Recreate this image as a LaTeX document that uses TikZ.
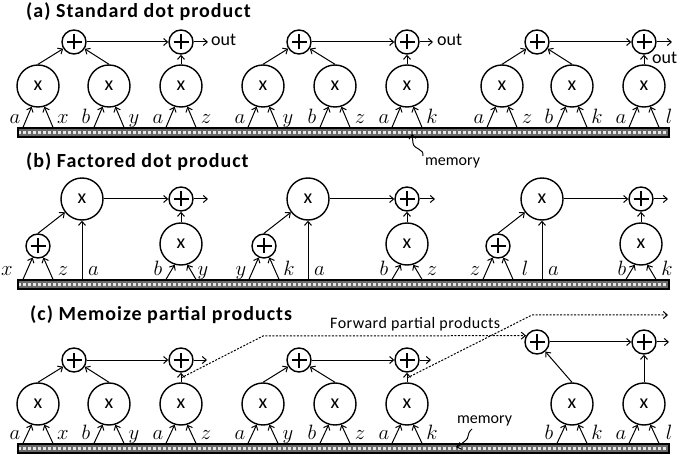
\documentclass[tikz,border=0pt]{standalone}
\usepackage{fontspec}
\setmainfont{Carlito}
\newfontfamily\ttlfont[LetterSpace=5]{Carlito}
\newfontfamily\spfont[LetterSpace=3]{Carlito}
\usetikzlibrary{arrows.meta,calc}
\definecolor{memgray}{RGB}{105,105,105}
\definecolor{memdot}{RGB}{230,230,230}
\tikzset{
  mul/.style={circle,draw,line width=1.4pt,minimum size=42pt,inner sep=0pt,font=\fontsize{20}{20}\selectfont},
  add/.style={circle,draw,line width=1.4pt,minimum size=24pt,inner sep=0pt,
    path picture={\draw[line width=2.3pt] ([xshift=-7.5pt]path picture bounding box.center) -- ([xshift=7.5pt]path picture bounding box.center) ([yshift=-7.5pt]path picture bounding box.center) -- ([yshift=7.5pt]path picture bounding box.center);}},
  flow/.style={line width=1pt,-{Straight Barb[length=4pt,width=7pt]}},
  fwd/.style={flow,dash pattern=on 2pt off 1.5pt},
  lab/.style={font=\fontsize{20.74}{20}\selectfont,inner sep=0pt,anchor=base},
  txt/.style={font=\fontsize{18}{18}\selectfont,inner sep=0pt,anchor=base west},
  ttl/.style={font=\ttlfont\fontsize{20}{20}\selectfont\bfseries,inner sep=0pt,anchor=west},
  membar/.style={draw,line width=1.3pt,fill=memgray,minimum width=651pt,minimum height=9pt,inner sep=0pt,
    path picture={\draw[memdot,line width=2.6pt,dash pattern=on 2.6pt off 2.4pt] (path picture bounding box.west) -- (path picture bounding box.east);}},
}
% multiplier with two inputs from memory bar
\newcommand\mulin[8]{%
  \node[mul] (#1) at (#2,#3) {x};
  \path (#4.north -| #1.south) ++(-15,0) coordinate (#1l) ++(30,0) coordinate (#1r);
  \draw[flow] (#1l) -- (#1.-107);
  \draw[flow] (#1r) -- (#1.-73);
  \node[lab] (#1la) at ($(#4.north -| #1.south)+(#6,-4)$) {$#5$};
  \node[lab] (#1lb) at ($(#4.north -| #1.south)+(#8,-4)$) {$#7$};
}
% adder with two inputs from memory bar
\newcommand\addin[8]{%
  \node[add] (#1) at (#2,#3) {};
  \path (#4.north -| #1.south) ++(-15,0) coordinate (#1l) ++(30,0) coordinate (#1r);
  \draw[flow] (#1l) -- (#1.-115);
  \draw[flow] (#1r) -- (#1.-65);
  \node[lab] (#1la) at ($(#4.north -| #1.south)+(#6,-4)$) {$#5$};
  \node[lab] (#1lb) at ($(#4.north -| #1.south)+(#8,-4)$) {$#7$};
}
\begin{document}
\begin{tikzpicture}[x=1pt,y=-1pt]
\useasboundingbox (0,0) rectangle (686,457);

% ---------------- (a) ----------------
\node[ttl] (ta) at (26,12) {(a) Standard dot product};
\node[membar] (memA) at (343.5,132.5) {};
\mulin{a1}{38}{86}{memA}{a}{-23}{x}{25}
\mulin{a2}{109}{86}{memA}{b}{-23}{y}{25}
\mulin{a3}{181}{86}{memA}{a}{-23}{z}{25}
\mulin{a4}{263}{86}{memA}{a}{-23}{y}{25}
\mulin{a5}{335}{86}{memA}{b}{-23}{z}{25}
\mulin{a6}{407}{86}{memA}{a}{-23}{k}{25}
\mulin{a7}{502}{86}{memA}{a}{-23}{z}{25}
\mulin{a8}{572}{86}{memA}{b}{-23}{k}{25}
\mulin{a9}{644}{86}{memA}{a}{-23}{l}{25}
\node[add] (pa1) at (74,42) {};
\node[add] (pa2) at (181,42) {};
\node[add] (pa3) at (299,42) {};
\node[add] (pa4) at (407,42) {};
\node[add] (pa5) at (537,42) {};
\node[add] (pa6) at (644,42) {};
\coordinate (oa1) at (208,42);
\coordinate (oa2) at (433,42);
\coordinate (oa3) at (672,42);
\draw[flow] (a1.north) -- (pa1);
\draw[flow] (a2.north) -- (pa1);
\draw[flow] (pa1.east) -- (pa2.west);
\draw[flow] (a3.north) -- (pa2.south);
\draw[flow] (pa2.east) -- (oa1);
\draw[flow] (a4.north) -- (pa3);
\draw[flow] (a5.north) -- (pa3);
\draw[flow] (pa3.east) -- (pa4.west);
\draw[flow] (a6.north) -- (pa4.south);
\draw[flow] (pa4.east) -- (oa2);
\draw[flow] (a7.north) -- (pa5);
\draw[flow] (a8.north) -- (pa5);
\draw[flow] (pa5.east) -- (pa6.west);
\draw[flow] (a9.north) -- (pa6.south);
\draw[flow] (pa6.east) -- (oa3);
\node[txt] (outa1) at (211,46) {out};
\node[txt] (outa2) at (437,46) {out};
\node[txt] (outa3) at (652,64) {out};
\node[txt,font=\fontsize{16}{16}\selectfont] (mlA) at (425,166) {memory};
\coordinate (sqa0) at (423,156);
\coordinate (sqa1) at (412,134);
\draw[flow] (sqa0) .. controls (424,148) and (414,150) .. (413,143) -- (sqa1);

% ---------------- (b) ----------------
\node[ttl] (tb) at (26,162) {(b) Factored dot product};
\node[membar] (memB) at (343.5,284.5) {};
% group 1
\addin{sb1}{38}{246}{memB}{x}{-31}{z}{25}
\node[mul] (bb1) at (82,199) {x};
\mulin{rb1}{181}{244}{memB}{b}{-23}{y}{22}
\node[add] (rp1) at (181,199) {};
\coordinate (fb1) at (memB.north -| bb1.south);
\node[lab,anchor=base west] (lb1) at ($(fb1)+(6,-4)$) {$a$};
\coordinate (ob1) at (208,199);
\draw[flow] (sb1.north) -- (bb1);
\draw[flow] (fb1) -- (bb1.south);
\draw[flow] (bb1.east) -- (rp1.west);
\draw[flow] (rb1.north) -- (rp1.south);
\draw[flow] (rp1.east) -- (ob1);
% group 2
\addin{sb2}{264}{246}{memB}{y}{-23}{k}{25}
\node[mul] (bb2) at (308,199) {x};
\mulin{rb2}{407}{244}{memB}{b}{-23}{z}{25}
\node[add] (rp2) at (407,199) {};
\coordinate (fb2) at (memB.north -| bb2.south);
\node[lab,anchor=base west] (lb2) at ($(fb2)+(6,-4)$) {$a$};
\coordinate (ob2) at (435,199);
\draw[flow] (sb2.north) -- (bb2);
\draw[flow] (fb2) -- (bb2.south);
\draw[flow] (bb2.east) -- (rp2.west);
\draw[flow] (rb2.north) -- (rp2.south);
\draw[flow] (rp2.east) -- (ob2);
% group 3
\addin{sb3}{498}{246}{memB}{z}{-23}{l}{27}
\node[mul] (bb3) at (542,199) {x};
\mulin{rb3}{641}{244}{memB}{b}{-19}{k}{26}
\node[add] (rp3) at (641,199) {};
\coordinate (fb3) at (memB.north -| bb3.south);
\node[lab,anchor=base west] (lb3) at ($(fb3)+(6,-4)$) {$a$};
\coordinate (ob3) at (668,199);
\draw[flow] (sb3.north) -- (bb3);
\draw[flow] (fb3) -- (bb3.south);
\draw[flow] (bb3.east) -- (rp3.west);
\draw[flow] (rb3.north) -- (rp3.south);
\draw[flow] (rp3.east) -- (ob3);

% ---------------- (c) ----------------
\node[ttl] (tc) at (30,315) {(c) Memoize partial products};
\node[membar] (memC) at (343.5,448.5) {};
\mulin{c1}{38}{404}{memC}{a}{-23}{x}{25}
\mulin{c2}{109}{404}{memC}{b}{-23}{y}{25}
\mulin{c3}{181}{404}{memC}{a}{-23}{z}{25}
\mulin{c4}{263}{404}{memC}{a}{-23}{y}{25}
\mulin{c5}{335}{404}{memC}{b}{-23}{z}{25}
\mulin{c6}{407}{404}{memC}{a}{-23}{k}{25}
\mulin{c8}{572}{404}{memC}{b}{-23}{k}{25}
\mulin{c9}{644}{404}{memC}{a}{-23}{l}{25}
\node[add] (pc1) at (74,360) {};
\node[add] (pc2) at (181,360) {};
\node[add] (pc3) at (299,360) {};
\node[add] (pc4) at (407,360) {};
\node[add] (pc5) at (537,342) {};
\node[add] (pc6) at (644,342) {};
\coordinate (oc1) at (207,360);
\coordinate (oc2) at (431,360);
\coordinate (oc3) at (669,342);
\draw[flow] (c1.north) -- (pc1);
\draw[flow] (c2.north) -- (pc1);
\draw[flow] (pc1.east) -- (pc2.west);
\draw[flow] (c3.north) -- coordinate[pos=0.45] (f1) (pc2.south);
\draw[flow] (pc2.east) -- (oc1);
\draw[flow] (c4.north) -- (pc3);
\draw[flow] (c5.north) -- (pc3);
\draw[flow] (pc3.east) -- (pc4.west);
\draw[flow] (c6.north) -- coordinate[pos=0.45] (f2) (pc4.south);
\draw[flow] (pc4.east) -- (oc2);
\draw[flow] (c8.north) -- (pc5);
\draw[flow] (pc5.east) -- (pc6.west);
\draw[flow] (c9.north) -- (pc6.south);
\draw[flow] (pc6.east) -- (oc3);
% forwarded partial products
\coordinate (bend1) at (263,336);
\coordinate (bend2) at (532,315);
\coordinate (fwdend) at (668,315);
\draw[fwd] (f1) -- (bend1) -- (pc5.150);
\draw[fwd] (f2) -- (bend2) -- (fwdend);
\node[txt,font=\spfont\fontsize{16}{16}\selectfont] (fwdl) at (330,328) {Forward partial products};
\node[txt,font=\fontsize{16}{16}\selectfont] (mlC) at (457,423) {memory};
\coordinate (sqc0) at (472,429);
\coordinate (sqc1) at (456,447);
\draw[flow] (sqc0) .. controls (466,434) and (470,438) .. (465,441) .. controls (462,443) and (460,446) .. (sqc1);
\end{tikzpicture}
\end{document}
